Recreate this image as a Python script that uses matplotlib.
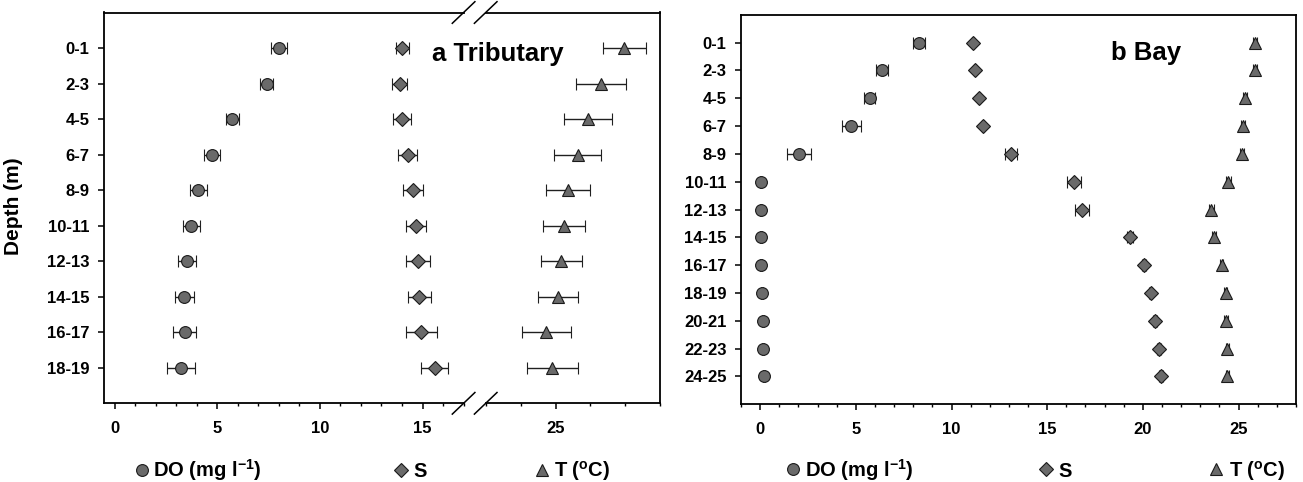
# -*- coding: utf-8 -*-
# Depth profiles of DO, salinity and temperature: (a) tributary, (b) bay

import numpy as np
import matplotlib
matplotlib.use("Agg")
import matplotlib.pyplot as plt
from matplotlib.lines import Line2D
from matplotlib.ticker import MultipleLocator, FixedLocator

# ----------------
# Module constants
# ----------------

W, H = 1303, 482

DEPTH_A = ["0-1", "2-3", "4-5", "6-7", "8-9", "10-11", "12-13", "14-15", "16-17", "18-19"]
DO_A = [8.02, 7.41, 5.73, 4.75, 4.08, 3.74, 3.53, 3.39, 3.41, 3.23]
DO_A_ERR = [0.39, 0.32, 0.31, 0.40, 0.42, 0.42, 0.44, 0.46, 0.58, 0.70]
S_A = [14.02, 13.88, 14.00, 14.27, 14.53, 14.68, 14.78, 14.84, 14.94, 15.59]
S_A_ERR = [0.30, 0.37, 0.42, 0.47, 0.48, 0.50, 0.58, 0.56, 0.76, 0.65]
T_A = [26.97, 26.31, 25.93, 25.63, 25.37, 25.24, 25.17, 25.07, 24.73, 24.91]
T_A_ERR = [0.61, 0.71, 0.68, 0.66, 0.63, 0.60, 0.58, 0.57, 0.70, 0.74]

DEPTH_B = ["0-1", "2-3", "4-5", "6-7", "8-9", "10-11", "12-13", "14-15",
           "16-17", "18-19", "20-21", "22-23", "24-25"]
DO_B = [8.31, 6.36, 5.72, 4.76, 2.03, 0.02, 0.02, 0.03, 0.05, 0.11, 0.15, 0.15, 0.20]
DO_B_ERR = [0.30, 0.32, 0.29, 0.50, 0.64, 0.05, 0.05, 0.05, 0.05, 0.05, 0.05, 0.05, 0.05]
S_B = [11.10, 11.25, 11.42, 11.63, 13.11, 16.39, 16.82, 19.33, 20.04, 20.40, 20.64, 20.83, 20.93]
S_B_ERR = [0.05, 0.05, 0.05, 0.05, 0.29, 0.35, 0.36, 0.15, 0.10, 0.10, 0.10, 0.10, 0.10]
T_B = [25.86, 25.86, 25.33, 25.22, 25.18, 24.47, 23.57, 23.72, 24.11, 24.32, 24.36, 24.42, 24.42]
T_B_ERR = [0.12, 0.12, 0.10, 0.10, 0.10, 0.15, 0.12, 0.12, 0.10, 0.10, 0.10, 0.10, 0.10]

FILL = "#6a6a6a"
EDGE = "#1a1a1a"
MSIZE = {"o": 8.5, "D": 7.5, "^": 8.5}

plt.rcParams["font.family"] = ["Liberation Sans", "DejaVu Sans"]
plt.rcParams["font.weight"] = "bold"
plt.rcParams["mathtext.fontset"] = "custom"
plt.rcParams["mathtext.rm"] = "Liberation Sans:bold"
plt.rcParams["mathtext.bf"] = "Liberation Sans:bold"


# -------------------
# Auxiliary functions
# -------------------

def px_rect(x0, y0, x1, y1):
    return [x0 / W, 1 - y1 / H, (x1 - x0) / W, (y1 - y0) / H]


def fig_line(fig, xs, ys, **kw):
    fig.add_artist(Line2D([x / W for x in xs], [1 - y / H for y in ys],
                          transform=fig.transFigure, **kw))


def profile(ax, values, errors, marker):
    y = np.arange(len(values))
    ax.errorbar(values, y, xerr=errors, fmt=marker, ms=MSIZE[marker],
                mfc=FILL, mec=EDGE, mew=0.8, ecolor="#202020", elinewidth=1.0,
                capsize=4.0, capthick=1.0, zorder=3)


def style_axis(ax, labels):
    n = len(labels)
    ax.set_ylim(n, -1)
    ax.set_yticks(np.arange(n))
    ax.set_yticklabels(labels)
    for sp in ax.spines.values():
        sp.set_linewidth(1.3)
    ax.tick_params(axis="y", which="both", left=True, right=False, length=4,
                   width=1.1, pad=6.5, labelsize=12)
    ax.tick_params(axis="x", which="major", bottom=True, top=False, length=4.5,
                   width=1.1, pad=8.5, labelsize=12)
    ax.tick_params(axis="x", which="minor", bottom=True, top=False, length=2.5,
                   width=1.0)


def legend_row(fig, items, y_mark, y_base):
    for mx, marker, tx, label in items:
        fig.add_artist(Line2D([mx / W], [1 - y_mark / H], marker=marker,
                              ms=MSIZE[marker], mfc=FILL, mec=EDGE, mew=0.8,
                              linestyle="none", transform=fig.transFigure))
        fig.text(tx / W, 1 - y_base / H, label, fontsize=14.5, ha="left",
                 va="baseline")


# ----------
# The figure
# ----------

fig = plt.figure(figsize=(W / 100, H / 100), dpi=100)

# panel a: broken x axis (-0.5..17 | 23..28)
ax1 = fig.add_axes(px_rect(104.3, 12.5, 463.6, 403.3))
ax2 = fig.add_axes(px_rect(485.7, 12.5, 660.3, 403.3), sharey=ax1)

profile(ax1, DO_A, DO_A_ERR, "o")
profile(ax1, S_A, S_A_ERR, "D")
profile(ax2, T_A, T_A_ERR, "^")

style_axis(ax1, DEPTH_A)
style_axis(ax2, DEPTH_A)
ax1.set_xlim(-0.5, 17)
ax1.xaxis.set_major_locator(MultipleLocator(5))
ax1.xaxis.set_minor_locator(MultipleLocator(1))
ax1.spines["right"].set_visible(False)

ax2.set_xlim(23, 28)
ax2.xaxis.set_major_locator(FixedLocator([25]))
ax2.xaxis.set_minor_locator(MultipleLocator(1))
ax2.spines["left"].set_visible(False)
ax2.tick_params(axis="y", which="both", left=False, labelleft=False)

# break marks on top and bottom spines
for yc in (12.5, 403.3):
    for xc in (463.6, 485.7):
        fig_line(fig, [xc - 11.3, xc + 11.3], [yc + 10.8, yc - 10.8],
                 color="black", lw=1.1)

fig.text(432 / W, 1 - 54 / H, "a Tributary", fontsize=18.5, ha="left", va="center")

# panel b
axb = fig.add_axes(px_rect(741, 14.8, 1296, 404.3))
profile(axb, DO_B, DO_B_ERR, "o")
profile(axb, S_B, S_B_ERR, "D")
profile(axb, T_B, T_B_ERR, "^")
style_axis(axb, DEPTH_B)
axb.set_xlim(-1, 28)
axb.xaxis.set_major_locator(MultipleLocator(5))
axb.xaxis.set_minor_locator(MultipleLocator(1))

fig.text(1111 / W, 1 - 53 / H, "b Bay", fontsize=18.5, ha="left", va="center")

fig.text(14 / W, 1 - 206 / H, "Depth (m)", fontsize=15, rotation=90,
         ha="center", va="center")

do_label = r"DO (mg l$^{\mathbf{-1}}$)"
t_label = r"T ($^{\mathbf{o}}$C)"
legend_row(fig, [(141.7, "o", 153, do_label), (401, "D", 413, "S"),
                 (541.6, "^", 554, t_label)], 470, 477)
legend_row(fig, [(793, "o", 805, do_label), (1046, "D", 1058, "S"),
                 (1216, "^", 1229, t_label)], 469, 477)

fig.savefig("out.png", dpi=100)
